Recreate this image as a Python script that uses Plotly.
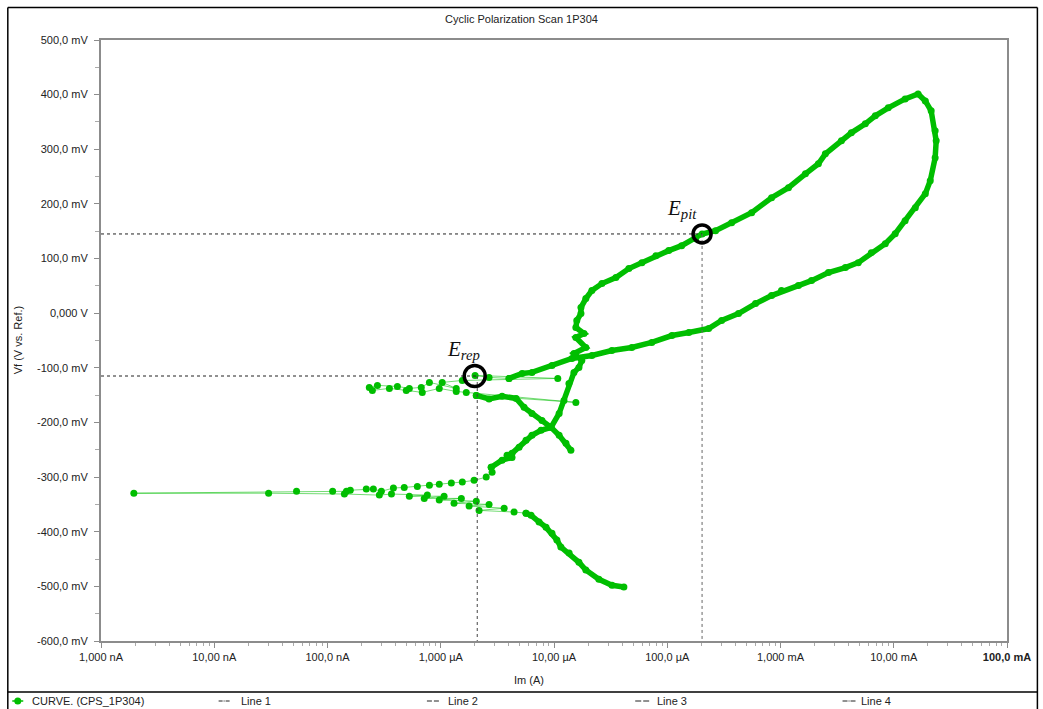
import numpy as np
import plotly.graph_objects as go

# ---- Measured data: current in µA, potential in mV -------------------------
# Forward scan, cathodic branch
fwd_cath_i = [41.4, 32.5, 24.9, 19.1, 16.6, 13.6, 11.5, 10.6, 9.6, 8.5, 7.38, 6.27, 5.66]
fwd_cath_v = [-501, -498, -487, -470, -456, -439, -428, -415, -403, -392, -382, -370, -366]

# Noisy region around the corrosion potential
ecorr_i = [5.66, 4.44, 2.18, 3.63, 1.78, 2.67, 1.31, 2.06, 0.97, 1.52,
           0.715, 1.07, 0.528, 0.761, 0.367, 0.287, 0.141, 0.0302, 0.00195, 0.0533,
           0.111, 0.147, 0.159, 0.220, 0.254, 0.299, 0.382, 0.476, 0.621, 0.794,
           0.97, 1.24, 1.55, 1.97, 2.52, 2.84, 2.79]
ecorr_v = [-366, -364, -361, -357, -353, -350, -348, -344, -342, -339,
           -339, -335, -335, -333, -331, -333, -331, -329.5, -329.5, -326,
           -326, -326, -324, -322, -322, -326, -320, -319, -317, -315,
           -313, -311, -309, -306, -300, -291, -282]

# Anodic branch, passive region, pitting, vertex and reverse scan
loop_i = [2.79, 3.48, 4.26, 3.85, 4.26, 4.92, 5.66, 6.39, 7.68, 9.41,
          11.1, 12.25, 13.55, 15.0, 16.6, 17.6, 15.0, 19.1, 15.6, 18.4,
          15.6, 15.9, 17.3, 17.3, 19.1, 21.6, 26.5, 35.2, 45.8, 59.7,
          79.4, 103, 134, 178, 203, 267, 370, 556, 834, 1176,
          1660, 2160, 2490, 3450, 4220, 5610, 6870, 8940, 12600, 16400,
          19000, 21400, 23200, 23700, 23200, 21000, 19000, 15500, 12600, 10300,
          8420, 6340, 4860, 3740, 2650, 1880, 1440, 1020, 834, 602,
          426, 302, 232, 155, 110, 73.0, 48.6, 32.4, 21.6, 14.4,
          9.6, 6.39, 5.23, 4.01]
loop_v = [-282, -269, -264, -260, -256.5, -245.5, -232.7, -223.6, -214.4, -208.9,
          -183.4, -159.6, -128.6, -108.4, -99.3, -86.5, -73.8, -62.8, -44.5, -37.2,
          -26.3, -13.4, -0.7, 10.3, 26.7, 41.4, 54.2, 65.1, 81.6, 92.5,
          105.3, 114.5, 123.6, 136.4, 145, 151, 165.6, 183.9, 211.3, 229.6,
          255.1, 273.5, 291.7, 315.5, 330.1, 346.5, 361.2, 375.8, 392.2, 401.3,
          388.5, 370.3, 333.7, 315.5, 284.4, 242.4, 218.6, 193.1, 169.3, 145.5,
          127.3, 110.8, 92.5, 83.4, 74.3, 59.6, 50.5, 41.4, 32.2, 17.6,
          -0.7, -13.4, -28.1, -35.4, -40.9, -53.6, -62.8, -68.3, -77.4, -82.9,
          -95.7, -108.4, -110.3, -119.4]

# Reverse scan, noisy region near the repassivation potential
rev_noise_i = [4.01, 2.67, 2.01, 10.8, 1.55, 1.03, 1.37, 0.794, 0.673, 0.528,
               0.414, 0.276, 0.234, 0.249, 0.352, 0.496, 0.687, 0.97, 1.37, 1.68,
               15.6, 2.06]
rev_noise_v = [-119.4, -117.6, -113.9, -119.4, -123.1, -126.7, -137.7, -126.7, -135.8, -137.7,
               -134.0, -132.2, -135.8, -141.3, -137.7, -141.3, -145.0, -137.7, -143.2, -145.0,
               -163.3, -150.5]

# Reverse scan, cathodic tail
rev_cath_i = [2.06, 2.67, 3.48, 4.63, 5.44, 6.39, 7.83, 9.41, 11.1, 12.75, 14.1]
rev_cath_v = [-150.5, -157, -152, -156, -172.4, -183.4, -196.2, -208.9, -223.6, -238.2, -251.0]

# Marked potentials (current µA, potential mV)
E_PIT = (203, 145)
E_REP = (2.1, -115)

# Axis ticks
x_tickvals = [1e-9, 1e-8, 1e-7, 1e-6, 1e-5, 1e-4, 1e-3, 1e-2, 1e-1]
x_ticktext = ["1,000 nA", "10,00 nA", "100,0 nA", "1,000 µA", "10,00 µA",
              "100,0 µA", "1,000 mA", "10,00 mA", "<b>100,0 mA</b>"]
y_tickvals = [-600, -500, -400, -300, -200, -100, 0, 100, 200, 300, 400, 500]
y_ticktext = ["-600,0 mV", "-500,0 mV", "-400,0 mV", "-300,0 mV", "-200,0 mV",
              "-100,0 mV", "0,000 V", "100,0 mV", "200,0 mV", "300,0 mV",
              "400,0 mV", "500,0 mV"]

UA = 1e-6
GREEN = "rgb(0,190,0)"
THIN = "rgba(0,190,0,0.55)"
FONT = "Liberation Sans, Arial, sans-serif"

segments = [
    (fwd_cath_i, fwd_cath_v, True),
    (ecorr_i, ecorr_v, False),
    (loop_i, loop_v, True),
    (rev_noise_i, rev_noise_v, False),
    (rev_cath_i, rev_cath_v, True),
]

fig = go.Figure()

# dense parts of the scan drawn as a thick band
for seg_i, seg_v, dense in segments:
    if dense:
        fig.add_trace(go.Scatter(
            x=np.array(seg_i) * UA, y=seg_v, mode="lines",
            line=dict(color=GREEN, width=5.5), showlegend=False, hoverinfo="skip"))

all_i = np.concatenate([np.array(s[0], dtype=float) for s in segments]) * UA
all_v = np.concatenate([np.array(s[1], dtype=float) for s in segments])
fig.add_trace(go.Scatter(
    x=all_i, y=all_v, mode="lines+markers", name="CURVE. (CPS_1P304)",
    line=dict(color=THIN, width=1),
    marker=dict(size=7, color=GREEN), showlegend=False))

# guide lines for E_pit and E_rep
X_MIN, V_MIN = 1e-9, -600
guides = [
    ("Line 1", [X_MIN, E_PIT[0] * UA], [E_PIT[1], E_PIT[1]], "#222"),
    ("Line 2", [E_PIT[0] * UA, E_PIT[0] * UA], [E_PIT[1], V_MIN], "#666"),
    ("Line 3", [X_MIN, E_REP[0] * UA], [E_REP[1], E_REP[1]], "#222"),
    ("Line 4", [E_REP[0] * UA, E_REP[0] * UA], [E_REP[1], V_MIN], "#444"),
]
for name, gx, gy, col in guides:
    fig.add_trace(go.Scatter(
        x=gx, y=gy, mode="lines", name=name,
        line=dict(color=col, width=1, dash="dot"), showlegend=False, hoverinfo="skip"))

# rings around the marked points
fig.add_trace(go.Scatter(
    x=[E_PIT[0] * UA], y=[E_PIT[1]], mode="markers",
    marker=dict(symbol="circle-open", size=18, color="black", line=dict(width=3.5, color="black")),
    showlegend=False, hoverinfo="skip"))
fig.add_trace(go.Scatter(
    x=[E_REP[0] * 0.95 * UA], y=[E_REP[1]], mode="markers",
    marker=dict(symbol="circle-open", size=21, color="black", line=dict(width=3.5, color="black")),
    showlegend=False, hoverinfo="skip"))

# ---- helpers for placing decorations in pixel terms ------------------------
W, H = 1043, 709
L, R, T, B = 101, 1010, 40, 641


def px(xp):
    return (xp - L) / (R - L)


def py(yp):
    return (B - yp) / (B - T)


shapes = []
# outer frame and legend separator
frame = dict(type="line", xref="paper", yref="paper", line=dict(color="black", width=1.5), layer="above")
shapes.append({**frame, "x0": px(7.5), "x1": px(7.5), "y0": py(7.5), "y1": py(715)})
shapes.append({**frame, "x0": px(1040.5), "x1": px(1040.5), "y0": py(7.5), "y1": py(715)})
shapes.append({**frame, "x0": px(7.5), "x1": px(1040.5), "y0": py(7.5), "y1": py(7.5)})
shapes.append({**frame, "x0": px(7.5), "x1": px(1040.5), "y0": py(692), "y1": py(692)})

# legend symbols
LEG_Y = 701
shapes.append(dict(type="line", xref="paper", yref="paper", x0=px(12), x1=px(23),
                   y0=py(LEG_Y), y1=py(LEG_Y), line=dict(color=GREEN, width=1.5)))
shapes.append(dict(type="circle", xref="paper", yref="paper", x0=px(14), x1=px(21),
                   y0=py(LEG_Y + 3.5), y1=py(LEG_Y - 3.5), fillcolor=GREEN, line=dict(width=0)))
leg_lines = [(219, 231, "4px,1px,1px,1px"), (428, 441, "5px,2px"),
             (637, 651, "6px,2px"), (845, 858, "5px,1px,1px,1px")]
for x0, x1, dash in leg_lines:
    shapes.append(dict(type="line", xref="paper", yref="paper", x0=px(x0), x1=px(x1),
                       y0=py(LEG_Y), y1=py(LEG_Y), line=dict(color="#222", width=1, dash=dash)))

annotations = []
leg_texts = [(30, "CURVE. (CPS_1P304)"), (239, "Line 1"), (447, "Line 2"),
             (657, "Line 3"), (862, "Line 4")]
for xt, txt in leg_texts:
    annotations.append(dict(xref="paper", yref="paper", x=px(xt), y=py(LEG_Y),
                            xanchor="left", yanchor="middle", text=txt, showarrow=False,
                            font=dict(family=FONT, size=11, color="#222")))

# axis titles
annotations.append(dict(xref="paper", yref="paper", x=px(18), y=py(340), text="Vf (V vs. Ref.)",
                        textangle=-90, showarrow=False, xanchor="center", yanchor="middle",
                        font=dict(family=FONT, size=11, color="#222")))
annotations.append(dict(xref="paper", yref="paper", x=px(530), y=py(680), text="Im (A)",
                        showarrow=False, xanchor="center", yanchor="middle",
                        font=dict(family=FONT, size=11, color="#222")))

# point labels
LABEL_FONT = dict(family="Liberation Serif, DejaVu Serif, serif", size=21, color="#111")
annotations.append(dict(xref="paper", yref="paper", x=px(684), y=py(209),
                        text="<i>E</i><sub><i>pit</i></sub>", showarrow=False,
                        xanchor="center", yanchor="middle", font=LABEL_FONT))
annotations.append(dict(xref="paper", yref="paper", x=px(465), y=py(350),
                        text="<i>E</i><sub><i>rep</i></sub>", showarrow=False,
                        xanchor="center", yanchor="middle", font=LABEL_FONT))

minor_x = [d * 10.0 ** k for k in range(-9, -1) for d in range(2, 10)]
minor_y = list(range(-550, 500, 100))

axis_common = dict(
    showline=True, linecolor="#8c8c8c", linewidth=2, mirror=True,
    showgrid=False, zeroline=False, ticks="outside", tickcolor="#8c8c8c",
    tickfont=dict(family=FONT, size=11, color="#222"),
)

fig.update_layout(
    width=W, height=H,
    margin=dict(l=L, r=W - R, t=T, b=H - B),
    paper_bgcolor="white", plot_bgcolor="white",
    title=dict(text="Cyclic Polarization Scan 1P304", xref="container", x=0.5,
               y=1 - 19 / H, yanchor="middle", xanchor="center",
               font=dict(family=FONT, size=11, color="#222")),
    xaxis=dict(type="log", range=[-9, -1], tickmode="array", tickvals=x_tickvals,
               ticktext=x_ticktext, ticklen=5,
               minor=dict(tickmode="array", tickvals=minor_x, ticks="outside",
                          ticklen=3, tickcolor="#aaaaaa", showgrid=False),
               **axis_common),
    yaxis=dict(range=[-600, 500], tickmode="array", tickvals=y_tickvals,
               ticktext=y_ticktext, ticklen=5, ticklabelstandoff=4,
               minor=dict(tickmode="array", tickvals=minor_y, ticks="outside",
                          ticklen=4, tickcolor="#aaaaaa", showgrid=False),
               **axis_common),
    shapes=shapes,
    annotations=annotations,
    showlegend=False,
)

fig.write_html("out.html")
